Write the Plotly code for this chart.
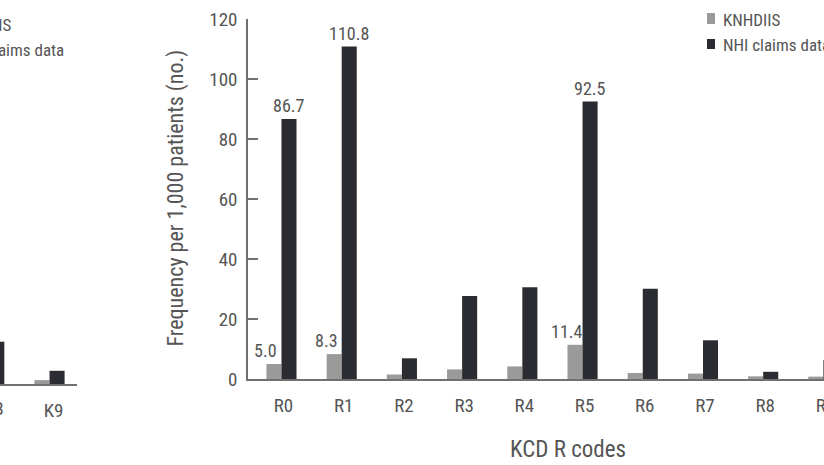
import plotly.graph_objects as go

# ---------------- data ----------------
r_codes = ["R0", "R1", "R2", "R3", "R4", "R5", "R6", "R7", "R8", "R9"]
knhdiis_r = [5.0, 8.3, 1.5, 3.2, 4.2, 11.4, 2.0, 1.8, 0.9, 0.8]
nhi_r = [86.7, 110.8, 6.9, 27.7, 30.6, 92.5, 30.1, 12.9, 2.4, 6.3]
label_knhdiis_r = ["5.0", "8.3", "", "", "", "11.4", "", "", "", ""]
label_nhi_r = ["86.7", "110.8", "", "", "", "92.5", "", "", "", ""]

k_codes = ["K8", "K9"]
knhdiis_k = [None, 1.3]   # K8 grey bar lies outside the visible crop
nhi_k = [14.1, 4.4]

y_ticks = [0, 20, 40, 60, 80, 100, 120]
series_names = ["KNHDIIS", "NHI claims data"]

# ---------------- style ----------------
W, H = 824, 465
FONT = "Liberation Sans Narrow, Arial Narrow, Roboto Condensed, DejaVu Sans Condensed, sans-serif"
GREY = "#9a9a9a"
DARK = "#2b2c31"
AXIS = "#707070"
TXT = "#555555"


def px(x):
    return x / W


def py(y):
    return 1 - y / H


fig = go.Figure()

# right panel (R codes)
fig.add_bar(x=r_codes, y=knhdiis_r, name=series_names[0], marker_color=GREY,
            marker_line_width=0, xaxis="x", yaxis="y")
fig.add_bar(x=r_codes, y=nhi_r, name=series_names[1], marker_color=DARK,
            marker_line_width=0, xaxis="x", yaxis="y")
# left panel (K codes, mostly cropped)
fig.add_bar(x=k_codes, y=knhdiis_k, name=series_names[0], marker_color=GREY,
            marker_line_width=0, xaxis="x2", yaxis="y2")
fig.add_bar(x=k_codes, y=nhi_k, name=series_names[1], marker_color=DARK,
            marker_line_width=0, xaxis="x2", yaxis="y2")

annotations = []
# value labels
for i, (lg, ld) in enumerate(zip(label_knhdiis_r, label_nhi_r)):
    if lg:
        annotations.append(dict(x=i - 0.125, y=knhdiis_r[i], xref="x", yref="y", text=lg,
                                showarrow=False, yanchor="bottom", xshift=-8, yshift=1,
                                font=dict(family=FONT, size=18, color=TXT)))
    if ld:
        annotations.append(dict(x=i + 0.125, y=nhi_r[i], xref="x", yref="y", text=ld,
                                showarrow=False, yanchor="bottom", yshift=1,
                                font=dict(family=FONT, size=18, color=TXT)))

# axis titles
annotations.append(dict(x=px(568), y=py(449), xref="paper", yref="paper", text="KCD R codes",
                        showarrow=False, xanchor="center", yanchor="middle",
                        font=dict(family=FONT, size=23, color=TXT)))
annotations.append(dict(x=px(175), y=py(198.5), xref="paper", yref="paper",
                        text="Frequency per 1,000 patients (no.)", textangle=-90,
                        showarrow=False, xanchor="center", yanchor="middle",
                        font=dict(family=FONT, size=22, color=TXT)))
# partially visible K8 tick label of the left panel
annotations.append(dict(x=px(-6), y=py(408), xref="paper", yref="paper", text="K8",
                        showarrow=False, xanchor="center", yanchor="middle",
                        font=dict(family=FONT, size=19, color=TXT)))

# legends (right panel and cropped left panel)
shapes = []
legend_right = [(GREY, 13, 24, 19.5), (DARK, 39, 49, 45)]
for (col, y0, y1, yc), name in zip(legend_right, series_names):
    shapes.append(dict(type="rect", xref="paper", yref="paper", x0=px(707), x1=px(715),
                       y0=py(y1), y1=py(y0), fillcolor=col, line_width=0))
    annotations.append(dict(x=px(721), y=py(yc), xref="paper", yref="paper", text=name,
                            showarrow=False, xanchor="left", yanchor="middle",
                            font=dict(family=FONT, size=17, color=TXT)))
legend_left_text = [(14, 25), (66, 50)]
for (xr, yc), name in zip(legend_left_text, series_names):
    annotations.append(dict(x=px(xr), y=py(yc), xref="paper", yref="paper", text=name,
                            showarrow=False, xanchor="right", yanchor="middle",
                            font=dict(family=FONT, size=17, color=TXT)))

fig.update_layout(
    width=W, height=H,
    margin=dict(l=0, r=0, t=0, b=0, autoexpand=False),
    paper_bgcolor="white", plot_bgcolor="white",
    barmode="group", bargap=0.5, bargroupgap=0,
    showlegend=False,
    font=dict(family=FONT, size=19, color=TXT),
    xaxis=dict(domain=[px(248), 1], range=[-0.556, 9.01], type="category",
               showline=True, linecolor=AXIS, linewidth=1.5, ticks="",
               showgrid=False, zeroline=False, anchor="y",
               tickfont=dict(family=FONT, size=19, color=TXT),
               ticklabelstandoff=8, ticklabelshift=2),
    yaxis=dict(domain=[py(379), py(19)], range=[0, 120], tickvals=y_ticks,
               showline=True, linecolor=AXIS, linewidth=1.5,
               ticks="inside", ticklen=10, tickwidth=1.8, tickcolor=AXIS,
               showgrid=False, zeroline=False, anchor="x",
               tickfont=dict(family=FONT, size=19, color=TXT),
               ticklabelstandoff=5),
    xaxis2=dict(domain=[0, px(77)], range=[0.178, 1.456], type="category",
                showline=True, linecolor=AXIS, linewidth=1.5, ticks="",
                showgrid=False, zeroline=False, anchor="y2",
                tickfont=dict(family=FONT, size=19, color=TXT),
                ticklabelstandoff=8, ticklabelshift=4),
    yaxis2=dict(domain=[py(384), py(24)], range=[0, 120], visible=False,
                anchor="x2"),
    annotations=annotations,
    shapes=shapes,
)

fig.write_html("out.html")
